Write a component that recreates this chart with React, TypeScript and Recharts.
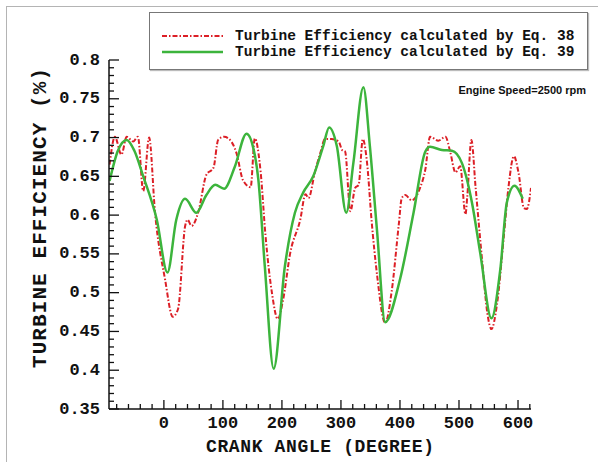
import { LineChart, Line, XAxis, YAxis, Legend } from 'recharts';

// Eq. 38 (red dash-dot)
const eq38Angles = [
  -92, -83, -72, -63, -52, -44, -35, -25, -15, 2, 15, 24, 36, 40, 47, 58, 72, 84, 92, 102,
  112, 123, 134, 147, 154, 164, 172, 183, 193, 202, 214, 231, 240, 245, 256, 265, 273, 284,
  296, 302, 307, 316, 324, 330, 337, 344, 352, 361, 375, 386, 398, 403, 409, 420, 434, 443,
  451, 465, 477, 485, 494, 502, 511, 514, 521, 528, 539, 548, 555, 564, 576, 584, 593, 601,
  610, 615, 622,
];
const eq38Values = [
  0.665, 0.701, 0.678, 0.701, 0.695, 0.701, 0.631, 0.7, 0.603, 0.517, 0.469, 0.479, 0.586,
  0.594, 0.586, 0.603, 0.652, 0.661, 0.697, 0.701, 0.697, 0.68, 0.645, 0.636, 0.699, 0.655,
  0.575, 0.5, 0.466, 0.491, 0.551, 0.594, 0.627, 0.622, 0.656, 0.68, 0.698, 0.698, 0.695,
  0.684, 0.682, 0.605, 0.635, 0.639, 0.698, 0.669, 0.592, 0.524, 0.461, 0.502, 0.588, 0.622,
  0.626, 0.619, 0.635, 0.659, 0.701, 0.696, 0.701, 0.682, 0.655, 0.663, 0.601, 0.624, 0.697,
  0.637, 0.543, 0.474, 0.453, 0.483, 0.573, 0.637, 0.676, 0.654, 0.609, 0.608, 0.635,
];

// Eq. 39 (green solid)
const eq39Angles = [
  -92, -78, -63, -50, -35, -12, 6, 21, 36, 55, 72, 87, 102, 120, 140, 152, 160, 171, 186,
  205, 222, 236, 253, 270, 280, 293, 309, 321, 338, 349, 361, 375, 400, 423, 443, 451, 471,
  488, 505, 522, 536, 555, 570, 581, 594, 608,
];
const eq39Values = [
  0.644, 0.683, 0.697, 0.683, 0.65, 0.594, 0.526, 0.594, 0.621, 0.603, 0.626, 0.639, 0.634,
  0.662, 0.705, 0.685, 0.646, 0.534, 0.402, 0.534, 0.603, 0.629, 0.65, 0.689, 0.713, 0.689,
  0.603, 0.667, 0.765, 0.689, 0.581, 0.462, 0.517, 0.603, 0.682, 0.688, 0.684, 0.683, 0.667,
  0.616, 0.551, 0.467, 0.53, 0.616, 0.638, 0.621,
];

const seriesNames = [
  'Turbine Efficiency calculated by Eq. 38',
  'Turbine Efficiency calculated by Eq. 39',
];
const xTitle = 'CRANK ANGLE (DEGREE)';
const yTitle = 'TURBINE EFFICIENCY (%)';
const note = 'Engine Speed=2500 rpm';

const xMajorTicks = [0, 100, 200, 300, 400, 500, 600];
const yMajorTicks = [0.35, 0.4, 0.45, 0.5, 0.55, 0.6, 0.65, 0.7, 0.75, 0.8];

const RED = '#dc1f26';
const GREEN = '#3cb43c';
const mono = '"Liberation Mono", "DejaVu Sans Mono", monospace';

const eq38Data = eq38Angles.map((angle, i) => ({ angle, eff: eq38Values[i] }));
const eq39Data = eq39Angles.map((angle, i) => ({ angle, eff: eq39Values[i] }));

// minor ticks: every 20 degrees / every 0.01
const xTicks: number[] = [];
for (let a = -80; a <= 620; a += 20) xTicks.push(a);
const yTicks: number[] = [];
for (let k = 0; k <= 45; k++) yTicks.push(Math.round((0.35 + k * 0.01) * 100) / 100);

const tickText = { fontFamily: mono, fontSize: 17, fontWeight: 700, fill: '#111' };

const YTick = ({ x, y, payload }: any) => {
  const v = payload.value;
  const major = yMajorTicks.some((t) => Math.abs(t - v) < 1e-6);
  return (
    <g>
      <line x1={x} y1={y} x2={x + (major ? 10 : 5)} y2={y} stroke="#111" strokeWidth={1.3} />
      {major && (
        <text x={x - 9} y={y} textAnchor="end" dominantBaseline="central" style={tickText}>
          {String(v)}
        </text>
      )}
    </g>
  );
};

const XTick = ({ x, y, payload }: any) => {
  const v = payload.value;
  const major = xMajorTicks.includes(v);
  return (
    <g>
      <line x1={x} y1={y} x2={x} y2={y - (major ? 9 : 5)} stroke="#111" strokeWidth={1.3} />
      {major && (
        <text x={x} y={y + 14} textAnchor="middle" dominantBaseline="central" style={tickText}>
          {String(v)}
        </text>
      )}
    </g>
  );
};

const renderXTitle = () => (
  <text x={320} y={447} textAnchor="middle" dominantBaseline="central" textLength={228}
    style={{ fontFamily: mono, fontSize: 18, fontWeight: 700, fill: '#111' }}>
    {xTitle}
  </text>
);

const renderYTitle = () => (
  <text x={40} y={218} textAnchor="middle" dominantBaseline="central" textLength={300}
    transform="rotate(-90 40 218)"
    style={{ fontFamily: mono, fontSize: 21, fontWeight: 700, fill: '#111' }}>
    {yTitle}
  </text>
);

const LegendBox = () => (
  <div style={{ width: 439, height: 58, boxSizing: 'border-box', border: '1px solid #777', background: '#fff', boxShadow: '1px 1px 1px #bbb' }}>
    <svg width={437} height={56}>
      <line x1={12} y1={23} x2={73} y2={23} stroke={RED} strokeWidth={2} strokeDasharray="5 2 1.5 2" />
      <line x1={12} y1={39} x2={73} y2={39} stroke={GREEN} strokeWidth={2.5} />
      {seriesNames.map((name, i) => (
        <text key={name} x={85} y={23 + i * 16} dominantBaseline="central"
          style={{ fontFamily: mono, fontSize: 14.5, fontWeight: 700, fill: '#111' }}>
          {name}
        </text>
      ))}
    </svg>
  </div>
);

export default function App() {
  return (
    <div style={{ position: 'absolute', left: 0, top: 0, width: 598, height: 462, overflow: 'hidden', background: '#fff' }}>
      <div style={{ position: 'absolute', left: 6, top: 6, width: 700, height: 600, border: '1px solid #b4b4b4' }} />
      <LineChart width={598} height={462} margin={{ top: 60, right: 67, bottom: 23, left: 49 }}>
        <XAxis
          type="number"
          dataKey="angle"
          domain={[-93, 622]}
          ticks={xTicks}
          interval={0}
          tick={<XTick />}
          tickLine={false}
          tickSize={0}
          tickMargin={0}
          height={30}
          allowDataOverflow
          axisLine={{ stroke: '#111', strokeWidth: 1.5 }}
          label={{ content: renderXTitle }}
        />
        <YAxis
          type="number"
          domain={[0.35, 0.8]}
          ticks={yTicks}
          interval={0}
          tick={<YTick />}
          tickLine={false}
          tickSize={0}
          tickMargin={0}
          width={60}
          allowDataOverflow
          axisLine={{ stroke: '#111', strokeWidth: 1.5 }}
          label={{ content: renderYTitle }}
        />
        <Legend
          content={<LegendBox />}
          layout="horizontal"
          verticalAlign="middle"
          align="center"
          wrapperStyle={{ left: 149, top: 12, width: 439, height: 58 }}
        />
        <Line
          data={eq38Data}
          dataKey="eff"
          name={seriesNames[0]}
          type="monotone"
          stroke={RED}
          strokeWidth={2}
          strokeDasharray="5 2 1.5 2"
          dot={false}
          isAnimationActive={false}
        />
        <Line
          data={eq39Data}
          dataKey="eff"
          name={seriesNames[1]}
          type="monotone"
          stroke={GREEN}
          strokeWidth={2.5}
          dot={false}
          isAnimationActive={false}
        />
      </LineChart>
      <div style={{ position: 'absolute', right: 12, top: 84, fontFamily: '"Liberation Sans", Arial, sans-serif', fontSize: 11, fontWeight: 700, color: '#111' }}>
        {note}
      </div>
    </div>
  );
}
